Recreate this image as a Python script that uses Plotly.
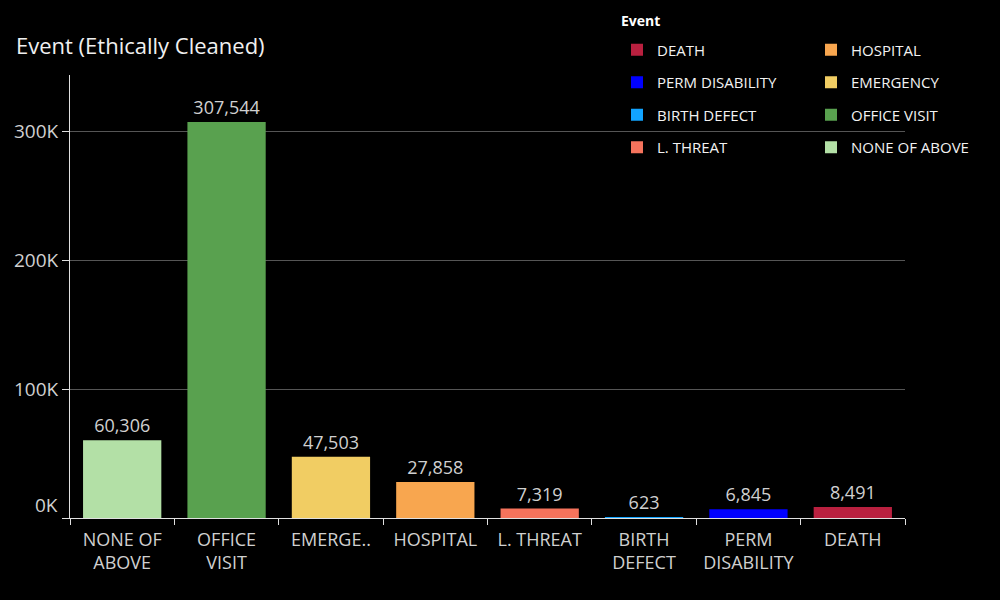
import plotly.graph_objects as go

categories = ["NONE OF ABOVE", "OFFICE VISIT", "EMERGENCY", "HOSPITAL",
              "L. THREAT", "BIRTH DEFECT", "PERM DISABILITY", "DEATH"]
tick_labels = ["NONE OF<br>ABOVE", "OFFICE<br>VISIT", "EMERGE..", "HOSPITAL",
               "L. THREAT", "BIRTH<br>DEFECT", "PERM<br>DISABILITY", "DEATH"]
values = [60306, 307544, 47503, 27858, 7319, 623, 6845, 8491]
colors = {
    "DEATH": "#b9203f",
    "PERM DISABILITY": "#0000ff",
    "BIRTH DEFECT": "#12a4ff",
    "L. THREAT": "#f5735c",
    "HOSPITAL": "#f8a64f",
    "EMERGENCY": "#f1cd63",
    "OFFICE VISIT": "#59a14f",
    "NONE OF ABOVE": "#b3e0a6",
}
legend_col1 = ["DEATH", "PERM DISABILITY", "BIRTH DEFECT", "L. THREAT"]
legend_col2 = ["HOSPITAL", "EMERGENCY", "OFFICE VISIT", "NONE OF ABOVE"]
y_ticks = [0, 100000, 200000, 300000]
y_tick_text = ["", "100K", "200K", "300K"]

FONT = "Open Sans"
vals = dict(zip(categories, values))

fig = go.Figure()
for name in legend_col1 + legend_col2:
    fig.add_trace(go.Bar(
        x=[name], y=[vals[name]], name=name,
        marker=dict(color=colors[name], line=dict(width=0)),
        width=0.75,
        text=[f"{vals[name]:,}"], textposition="outside",
        textfont=dict(size=18, color="#d0d0d0", family=FONT),
        cliponaxis=False,
        legend="legend" if name in legend_col1 else "legend2",
        legendgroup=name,
    ))

legend_common = dict(
    xref="container", yref="container", y=0.944,
    xanchor="left", yanchor="top", bgcolor="rgba(0,0,0,0)",
    font=dict(size=15, color="#f2f2f2"), tracegroupgap=10,
    traceorder="grouped",
)

fig.update_layout(
    width=1000, height=600,
    paper_bgcolor="#000000", plot_bgcolor="#000000",
    barmode="overlay",
    margin=dict(l=70, r=95, t=75, b=82, autoexpand=False),
    font=dict(family=FONT, color="#d0d0d0"),
    title=dict(text="Event (Ethically Cleaned)", x=0.016, xanchor="left",
               y=0.923, yanchor="middle", xref="container", yref="container",
               font=dict(size=22, color="#f0f0f0", family=FONT)),
    xaxis=dict(
        type="category", categoryorder="array", categoryarray=categories,
        tickvals=categories, ticktext=tick_labels, tickangle=0,
        tickfont=dict(size=18, color="#d0d0d0"),
        showline=True, linecolor="#e0e0e0", linewidth=1,
        ticks="outside", tickson="boundaries", ticklen=6, tickcolor="#e0e0e0",
        ticklabelstandoff=5,
        showgrid=False, zeroline=False,
    ),
    yaxis=dict(
        range=[0, 344000], tickvals=y_ticks, ticktext=y_tick_text,
        tickfont=dict(size=19, color="#d0d0d0"),
        showline=True, linecolor="#e0e0e0", linewidth=1,
        ticks="outside", ticklen=7, tickcolor="#e0e0e0",
        showgrid=True, gridcolor="#555555", gridwidth=1, zeroline=False,
    ),
    legend=dict(x=0.617, **legend_common),
    legend2=dict(x=0.811, **legend_common),
    showlegend=True,
)

fig.add_annotation(
    x=0, xref="paper", y=0, yref="y", text="0K", showarrow=False,
    xanchor="right", yanchor="middle", xshift=-10, yshift=13,
    font=dict(size=19, color="#d0d0d0", family=FONT),
)
fig.add_annotation(
    x=(619 - 70) / 835, xref="paper", y=(518 - 20) / 443, yref="paper",
    text="<b>Event</b>", showarrow=False, xanchor="left", yanchor="middle",
    font=dict(size=14, color="#ffffff", family=FONT),
)

fig.write_html(
    "out.html",
    config={"displayModeBar": False},
    post_script="document.body.style.margin='0';document.body.style.background='#000';",
)
